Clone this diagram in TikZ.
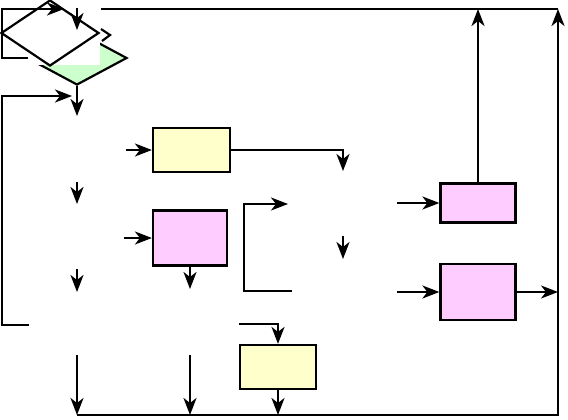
\documentclass[tikz,border=0pt]{standalone}
\usetikzlibrary{shapes.geometric,arrows.meta}
\definecolor{boxyellow}{RGB}{255,255,204}
\definecolor{boxpink}{RGB}{255,204,255}
\definecolor{boxgreen}{RGB}{204,255,204}
\tikzset{
  ln/.style={line width=2.2pt, line join=miter},
  arr/.style={ln, -{Stealth[length=17pt,width=13pt,inset=5pt]}},
  ybox/.style={draw, line width=2.2pt, fill=boxyellow, inner sep=0pt},
  pbox/.style={draw, line width=2.2pt, fill=boxpink, inner sep=0pt},
  dia/.style={draw, line width=2.2pt, shape=diamond, inner sep=0pt},
}
\begin{document}
\begin{tikzpicture}[x=1pt,y=-1pt]
\useasboundingbox (0,0) rectangle (568,420);
% green diamond partly hidden
\node[dia, fill=boxgreen, minimum width=100pt, minimum height=54pt] (d2) at (77,58) {};
\fill[white] (20,20) rectangle (100,65);
\node[dia, fill=white, minimum width=98pt, minimum height=66pt] (d1) at (50,33) {};
\coordinate (z1) at (101,29);
\coordinate (z2) at (110,35);
\coordinate (z3) at (102,41);
\draw[ln] (z1) -- (z2) -- (z3);
% boxes
\node[ybox, minimum width=77pt, minimum height=44pt] (y1) at (191.5,150) {};
\node[pbox, minimum width=74pt, minimum height=55pt] (p1) at (190,238) {};
\node[pbox, minimum width=75pt, minimum height=39pt] (p2) at (478,203) {};
\node[pbox, minimum width=75pt, minimum height=56pt] (p3) at (478,292) {};
\node[ybox, minimum width=76pt, minimum height=44pt] (y2) at (278,367) {};
% coordinates
\coordinate (a1) at (28,58);
\coordinate (a2) at (2,58);
\coordinate (a3) at (2,9);
\coordinate (a4) at (64,9);
\coordinate (b1) at (77,8);
\coordinate (b2) at (77,30);
\coordinate (t1) at (101,9);
\coordinate (tr) at (558,9);
\coordinate (br) at (558,415);
\coordinate (bl) at (77,415);
\coordinate (c1) at (29,325);
\coordinate (c2) at (2,325);
\coordinate (c3) at (2,96);
\coordinate (c4) at (72,96);
\coordinate (e1) at (77,116);
\coordinate (f1) at (126,150);
\coordinate (f2) at (343,150);
\coordinate (f3) at (343,171);
\coordinate (g1) at (77,182);
\coordinate (g2) at (77,204);
\coordinate (h1) at (124,238);
\coordinate (i1) at (190,289);
\coordinate (j1) at (292,291);
\coordinate (j2) at (244,291);
\coordinate (j3) at (244,204);
\coordinate (j4) at (288,204);
\coordinate (k1) at (343,236);
\coordinate (k2) at (343,259);
\coordinate (l1) at (397,203);
\coordinate (m1) at (77,269);
\coordinate (m2) at (77,292);
\coordinate (n1) at (397,292);
\coordinate (q1) at (239,324);
\coordinate (q2) at (278,324);
\coordinate (r1) at (77,355);
\coordinate (s1) at (190,355);
\coordinate (s2) at (190,415);
% connectors
\draw[arr] (a1) -- (a2) -- (a3) -- (a4);
\draw[arr] (b1) -- (b2);
\draw[ln] (t1) -- (tr);
\draw[arr] (p2.north) -- (p2.north |- tr);
\draw[arr] (bl) -- (br) -- (tr);
\draw[arr] (c1) -- (c2) -- (c3) -- (c4);
\draw[arr] (d2.south) -- (e1);
\draw[arr] (f1) -- (y1.west);
\draw[arr] (y1.east) -- (f2) -- (f3);
\draw[arr] (g1) -- (g2);
\draw[arr] (h1) -- (p1.west);
\draw[arr] (p1.south) -- (i1);
\draw[arr] (j1) -- (j2) -- (j3) -- (j4);
\draw[arr] (k1) -- (k2);
\draw[arr] (l1) -- (p2.west);
\draw[arr] (m1) -- (m2);
\draw[arr] (n1) -- (p3.west);
\draw[arr] (p3.east) -- (p3.east -| br);
\draw[arr] (q1) -- (q2) -- (y2.north);
\draw[arr] (y2.south) -- (y2.south |- bl);
\draw[arr] (r1) -- (bl);
\draw[arr] (s1) -- (s2);
\end{tikzpicture}
\end{document}
